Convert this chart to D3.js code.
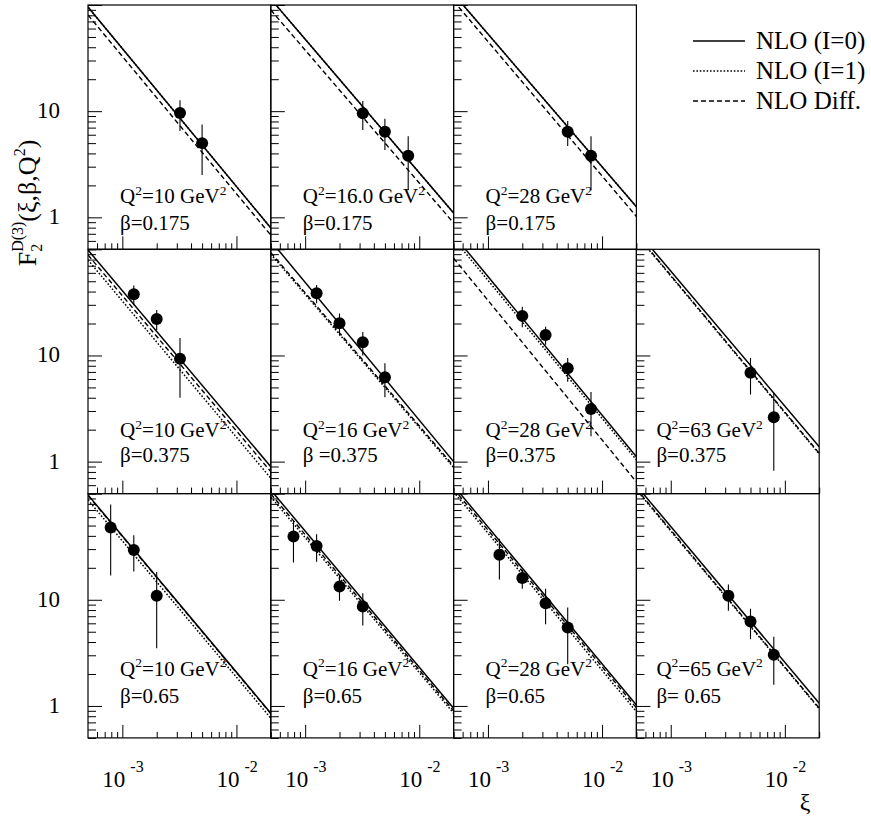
<!DOCTYPE html>
<html>
<head>
<meta charset="utf-8">
<script src="https://cdn.jsdelivr.net/npm/d3@7"></script>
<style>
  body { margin: 0; background: #fff; }
  svg { display: block; }
</style>
</head>
<body>
<svg id="chart" width="871" height="816" font-family="'Liberation Serif', 'Times New Roman', Times, serif"></svg>
<script>
// ---- data ----
const q2Labels = ['10', '16.0', '28', '10', '16', '28', '63', '10', '16', '28', '65'];
const betaLabels = ['β=0.175', 'β=0.175', 'β=0.175', 'β=0.375', 'β =0.375', 'β=0.375', 'β=0.375',
  'β=0.65', 'β=0.65', 'β=0.65', 'β= 0.65'];

const dataXi = [
  [3.2e-3, 5e-3],
  [3.2e-3, 5e-3, 8e-3],
  [5e-3, 8e-3],
  [1.26e-3, 2e-3, 3.2e-3],
  [1.26e-3, 2e-3, 3.2e-3, 5e-3],
  [2e-3, 3.2e-3, 5e-3, 8e-3],
  [5e-3, 8e-3],
  [7.9e-4, 1.26e-3, 2e-3],
  [7.9e-4, 1.26e-3, 2e-3, 3.2e-3],
  [1.26e-3, 2e-3, 3.2e-3, 5e-3],
  [3.2e-3, 5e-3, 8e-3]
];
const dataF2 = [
  [9.6, 5.0],
  [9.55, 6.4, 3.8],
  [6.4, 3.8],
  [37.7, 22.1, 9.3],
  [38.5, 20.1, 13.3, 6.24],
  [23.6, 15.6, 7.57, 3.13],
  [6.89, 2.62],
  [47.9, 29.5, 10.9],
  [39.4, 32.1, 13.3, 8.63],
  [26.5, 16, 9.29, 5.47],
  [10.9, 6.24, 3.03]
];
const dataErr = [
  [3.1, 2.5],
  [2.9, 2.1, 2.0],
  [1.7, 2.0],
  [8, 4.7, 5.3],
  [7.5, 4.7, 3.3, 2.2],
  [5.2, 3, 1.9, 1.4],
  [2.6, 1.8],
  [31, 11, 7.4],
  [17, 9.3, 3.5, 2.9],
  [11, 3.3, 3.4, 3],
  [3, 2, 1.45]
];

// theory curves: F2 at the two ends of the xi range
const curveXi = [5e-4, 2e-2];
const nloI0 = [
  [95.7, 0.794], [114, 1.10], [127, 1.26],
  [98.5, 0.897], [120, 1.0], [137, 1.11], [150.6, 1.38],
  [97.2, 0.855], [108, 0.953], [118.7, 1.02], [119, 1.06]
];
const nloI1 = [
  [95.7, 0.794], [114, 1.10], [127, 1.26],
  [79.3, 0.698], [90, 0.88], [125.6, 1.04], [137, 1.18],
  [87.3, 0.767], [93, 0.855], [103.8, 0.885], [108.4, 0.94]
];
const nloDiff = [
  [80.5, 0.68], [89.7, 0.885], [109, 1.02],
  [88.4, 0.805], [93, 0.91], [82.3, 0.644], [139, 1.2],
  [96, 0.845], [99.4, 0.9], [110.7, 0.96], [110.7, 0.953]
];

const xMajor = [1e-3, 1e-2];
const xMajorExp = ['-3', '-2'];
const xMinor = [6e-4, 7e-4, 8e-4, 9e-4, 2e-3, 3e-3, 4e-3, 5e-3, 6e-3, 7e-3, 8e-3, 9e-3, 2e-2];
const yMajor = [1, 10, 100];
const yMajorLabels = ['1', '10', ''];
const yMinor = [0.5, 0.6, 0.7, 0.8, 0.9, 2, 3, 4, 5, 6, 7, 8, 9, 20, 30, 40, 50, 60, 70, 80, 90];

const legendNames = ['NLO (I=0)', 'NLO (I=1)', 'NLO Diff.'];

// ---- layout ----
const slots = [[0, 0], [0, 1], [0, 2], [1, 0], [1, 1], [1, 2], [1, 3], [2, 0], [2, 1], [2, 2], [2, 3]];
const left0 = 88, top0 = 5, pw = 182.8, ph = 244.3;
const qOff = [198, 188, 182];
const bOff = [225, 213, 209];

const svg = d3.select('#chart');
const x = d3.scaleLog().domain([5e-4, 2e-2]).range([0, pw]);
const y = d3.scaleLog().domain([0.5, 100]).range([ph, 0]);

const styles = [
  { data: nloDiff, dash: '5,3', width: 1.4 },
  { data: nloI1, dash: '1.6,1.8', width: 1.5 },
  { data: nloI0, dash: null, width: 1.5 }
];

const line = d3.line().x(d => x(d[0])).y(d => y(d[1]));

function supText(sel, parts, size, supSize, rise) {
  // parts: [[text, isSup], ...]
  let up = false;
  parts.forEach(([t, sup]) => {
    const ts = sel.append('tspan').text(t).attr('font-size', sup ? supSize : size);
    if (sup && !up) { ts.attr('dy', -rise); up = true; }
    else if (!sup && up) { ts.attr('dy', rise); up = false; }
  });
}

slots.forEach(([row, col], i) => {
  const px = left0 + col * pw, py = top0 + row * ph;
  const g = svg.append('g').attr('transform', `translate(${px},${py})`);

  g.append('clipPath').attr('id', 'clip' + i)
    .append('rect').attr('width', pw).attr('height', ph);

  // ticks (inward, left and bottom only)
  const noDomain = a => a.select('.domain').remove();
  g.append('g').call(d3.axisLeft(y).tickValues(yMinor).tickSize(-8).tickFormat('')).call(noDomain);
  g.append('g').call(d3.axisLeft(y).tickValues(yMajor).tickSize(-14).tickFormat('')).call(noDomain);
  g.append('g').attr('transform', `translate(0,${ph})`)
    .call(d3.axisBottom(x).tickValues(xMinor).tickSize(-6).tickFormat('')).call(noDomain);
  g.append('g').attr('transform', `translate(0,${ph})`)
    .call(d3.axisBottom(x).tickValues(xMajor).tickSize(-13).tickFormat('')).call(noDomain);
  g.selectAll('.tick line').attr('stroke', '#000').attr('stroke-width', 1);

  // panel text
  const tx = col === 3 ? 20 : 32;
  const q = g.append('text').attr('x', tx).attr('y', qOff[row]);
  supText(q, [['Q', false], ['2', true], ['=' + q2Labels[i] + ' GeV', false], ['2', true]], 21, 13.5, 8.5);
  g.append('text').attr('x', tx).attr('y', bOff[row]).attr('font-size', 21).text(betaLabels[i]);

  // theory curves
  const cg = g.append('g').attr('clip-path', `url(#clip${i})`);
  styles.forEach(s => {
    cg.append('path')
      .datum(curveXi.map((xv, k) => [xv, s.data[i][k]]))
      .attr('d', line)
      .attr('fill', 'none')
      .attr('stroke', '#000')
      .attr('stroke-width', s.width)
      .attr('stroke-dasharray', s.dash);
  });

  // data points with error bars
  const pts = dataXi[i].map((xv, k) => ({ xi: xv, f: dataF2[i][k], e: dataErr[i][k] }));
  cg.selectAll('line.err').data(pts).enter().append('line')
    .attr('class', 'err')
    .attr('x1', d => x(d.xi)).attr('x2', d => x(d.xi))
    .attr('y1', d => y(Math.max(d.f - d.e, 0.3))).attr('y2', d => y(d.f + d.e))
    .attr('stroke', '#000').attr('stroke-width', 1.1);
  cg.selectAll('circle').data(pts).enter().append('circle')
    .attr('cx', d => x(d.xi)).attr('cy', d => y(d.f)).attr('r', 6)
    .attr('fill', '#000');

  // frame
  g.append('rect').attr('width', pw).attr('height', ph)
    .attr('fill', 'none').attr('stroke', '#000').attr('stroke-width', 1.2);

  // y tick labels on the first column
  if (col === 0) {
    yMajor.forEach((v, k) => {
      if (!yMajorLabels[k]) return;
      g.append('text').attr('x', -28).attr('y', y(v) + 7)
        .attr('text-anchor', 'end').attr('font-size', 23).text(yMajorLabels[k]);
    });
  }

  // x tick labels on the bottom row
  if (row === 2) {
    xMajor.forEach((v, k) => {
      const t = g.append('text').attr('x', x(v) - 20).attr('y', ph + 49);
      t.append('tspan').attr('font-size', 23).text('10');
      t.append('tspan').attr('font-size', 16).attr('dx', 5).attr('dy', -15).text(xMajorExp[k]);
    });
  }
});

// x axis title
svg.append('text').attr('x', 805).attr('y', 810).attr('text-anchor', 'middle')
  .attr('font-size', 24).text('ξ');

// y axis title
const yt = svg.append('text')
  .attr('transform', 'translate(36,203) rotate(-90)')
  .attr('text-anchor', 'middle')
  .attr('font-size', 26);
yt.append('tspan').text('F');
yt.append('tspan').attr('font-size', 16).attr('dy', 6).text('2');
yt.append('tspan').attr('font-size', 16).attr('dx', -8).attr('dy', -19).text('D(3)');
yt.append('tspan').attr('dy', 13).text('(ξ,β,Q');
yt.append('tspan').attr('font-size', 16).attr('dy', -11).text('2');
yt.append('tspan').attr('dy', 11).text(')');

// legend
const lg = svg.append('g');
const legendStyles = [styles[2], styles[1], styles[0]];
legendNames.forEach((name, k) => {
  const ly = 41 + k * 30;
  lg.append('line').attr('x1', 693).attr('x2', 745).attr('y1', ly).attr('y2', ly)
    .attr('stroke', '#000').attr('stroke-width', legendStyles[k].width)
    .attr('stroke-dasharray', legendStyles[k].dash);
  lg.append('text').attr('x', 756).attr('y', ly + 8).attr('font-size', 25).text(name);
});
</script>
</body>
</html>
